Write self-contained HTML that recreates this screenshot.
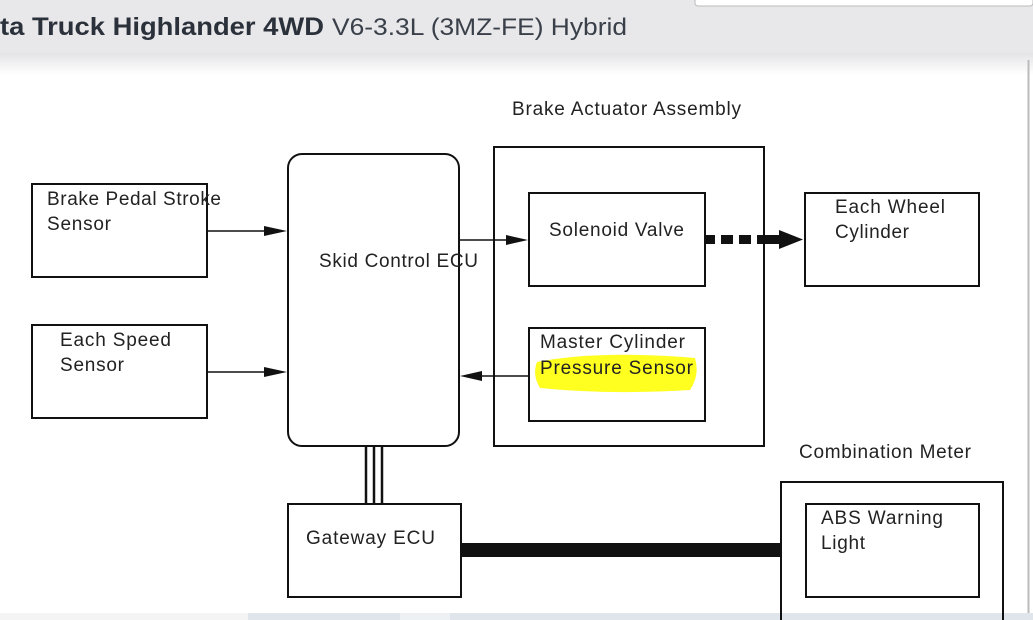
<!DOCTYPE html>
<html><head><style>
html,body{margin:0;padding:0;width:1033px;height:620px;overflow:hidden;background:#fff;}
svg text{font-family:"Liberation Sans",sans-serif;fill:#222;}
</style></head><body>
<svg width="1033" height="620" viewBox="0 0 1033 620" xmlns="http://www.w3.org/2000/svg">
<defs><linearGradient id="sh" x1="0" y1="0" x2="0" y2="1"><stop offset="0" stop-color="#e4e4e6"/><stop offset="1" stop-color="#fff"/></linearGradient></defs>
<rect x="0" y="0" width="1033" height="53" fill="#e8e8ea"/>
<rect x="0" y="53" width="1033" height="22" fill="url(#sh)"/>
<rect x="695" y="-6" width="338" height="12" rx="3" fill="#fff" stroke="#bbb"/>
<text x="0" y="35" font-size="25" font-weight="bold" textLength="324" lengthAdjust="spacingAndGlyphs" style="fill:#2b313b">ta Truck Highlander 4WD</text>
<text x="332" y="35" font-size="24" textLength="295" lengthAdjust="spacingAndGlyphs" style="fill:#3a404a">V6-3.3L (3MZ-FE) Hybrid</text>
<line x1="1028.5" y1="60" x2="1028.5" y2="613" stroke="#bbb" stroke-width="2"/>
<rect x="0" y="613" width="1033" height="7" fill="#dfe5ea"/>
<rect x="0" y="613" width="248" height="7" fill="#f4f4f4"/>
<rect x="400" y="613" width="50" height="7" fill="#eef1f3"/>

<g fill="none" stroke="#111" stroke-width="2">
<rect x="32" y="184" width="175" height="93"/>
<rect x="32" y="325" width="175" height="93"/>
<rect x="288" y="154" width="171" height="292" rx="14"/>
<rect x="494" y="147" width="270" height="299"/>
<rect x="529" y="193" width="176" height="93"/>
<rect x="529" y="328" width="176" height="93"/>
<rect x="805" y="193" width="174" height="93"/>
<rect x="288" y="504" width="173" height="93"/>
<rect x="781" y="482" width="222" height="140"/>
<rect x="806" y="504" width="173" height="93"/>
</g>
<g stroke="#111" stroke-width="1.5">
<line x1="207" y1="231" x2="270" y2="231"/>
<line x1="207" y1="372" x2="270" y2="372"/>
<line x1="459" y1="240" x2="512" y2="240"/>
<line x1="476" y1="376" x2="529" y2="376"/>
</g>
<g fill="#111">
<polygon points="287,231 264,226 264,236"/>
<polygon points="287,372 264,367 264,377"/>
<polygon points="528,240 506,235 506,245"/>
<polygon points="460,376 482,371 482,381"/>
<rect x="705" y="235" width="10" height="9"/>
<rect x="721" y="235" width="12" height="9"/>
<rect x="739" y="235" width="12" height="9"/>
<rect x="757" y="235" width="25" height="9"/>
<polygon points="803,239.5 779,230 779,249"/>
<rect x="461" y="543" width="320" height="14"/>
</g>
<g stroke="#111" stroke-width="2.5">
<line x1="366" y1="446" x2="366" y2="504"/>
<line x1="374" y1="446" x2="374" y2="504"/>
<line x1="382" y1="446" x2="382" y2="504"/>
</g>
<path d="M537 362 Q600 350 695 358 Q700 375 690 390 Q610 395 540 388 Q532 375 537 362Z" fill="#ffff20"/>
<g font-size="19" lengthAdjust="spacingAndGlyphs">
<text x="512" y="115" textLength="229">Brake Actuator Assembly</text>
<text x="47" y="205" textLength="174">Brake Pedal Stroke</text>
<text x="47" y="230" textLength="64">Sensor</text>
<text x="60" y="346" textLength="111">Each Speed</text>
<text x="60" y="371" textLength="64">Sensor</text>
<text x="319" y="267" textLength="159">Skid Control ECU</text>
<text x="549" y="236" textLength="135">Solenoid Valve</text>
<text x="540" y="348" textLength="145">Master Cylinder</text>
<text x="540" y="374" textLength="153">Pressure Sensor</text>
<text x="835" y="213" textLength="110">Each Wheel</text>
<text x="835" y="238" textLength="74">Cylinder</text>
<text x="799" y="458" textLength="172">Combination Meter</text>
<text x="306" y="544" textLength="129">Gateway ECU</text>
<text x="821" y="524" textLength="122">ABS Warning</text>
<text x="821" y="549" textLength="44">Light</text>
</g>
</svg>
</body></html>
